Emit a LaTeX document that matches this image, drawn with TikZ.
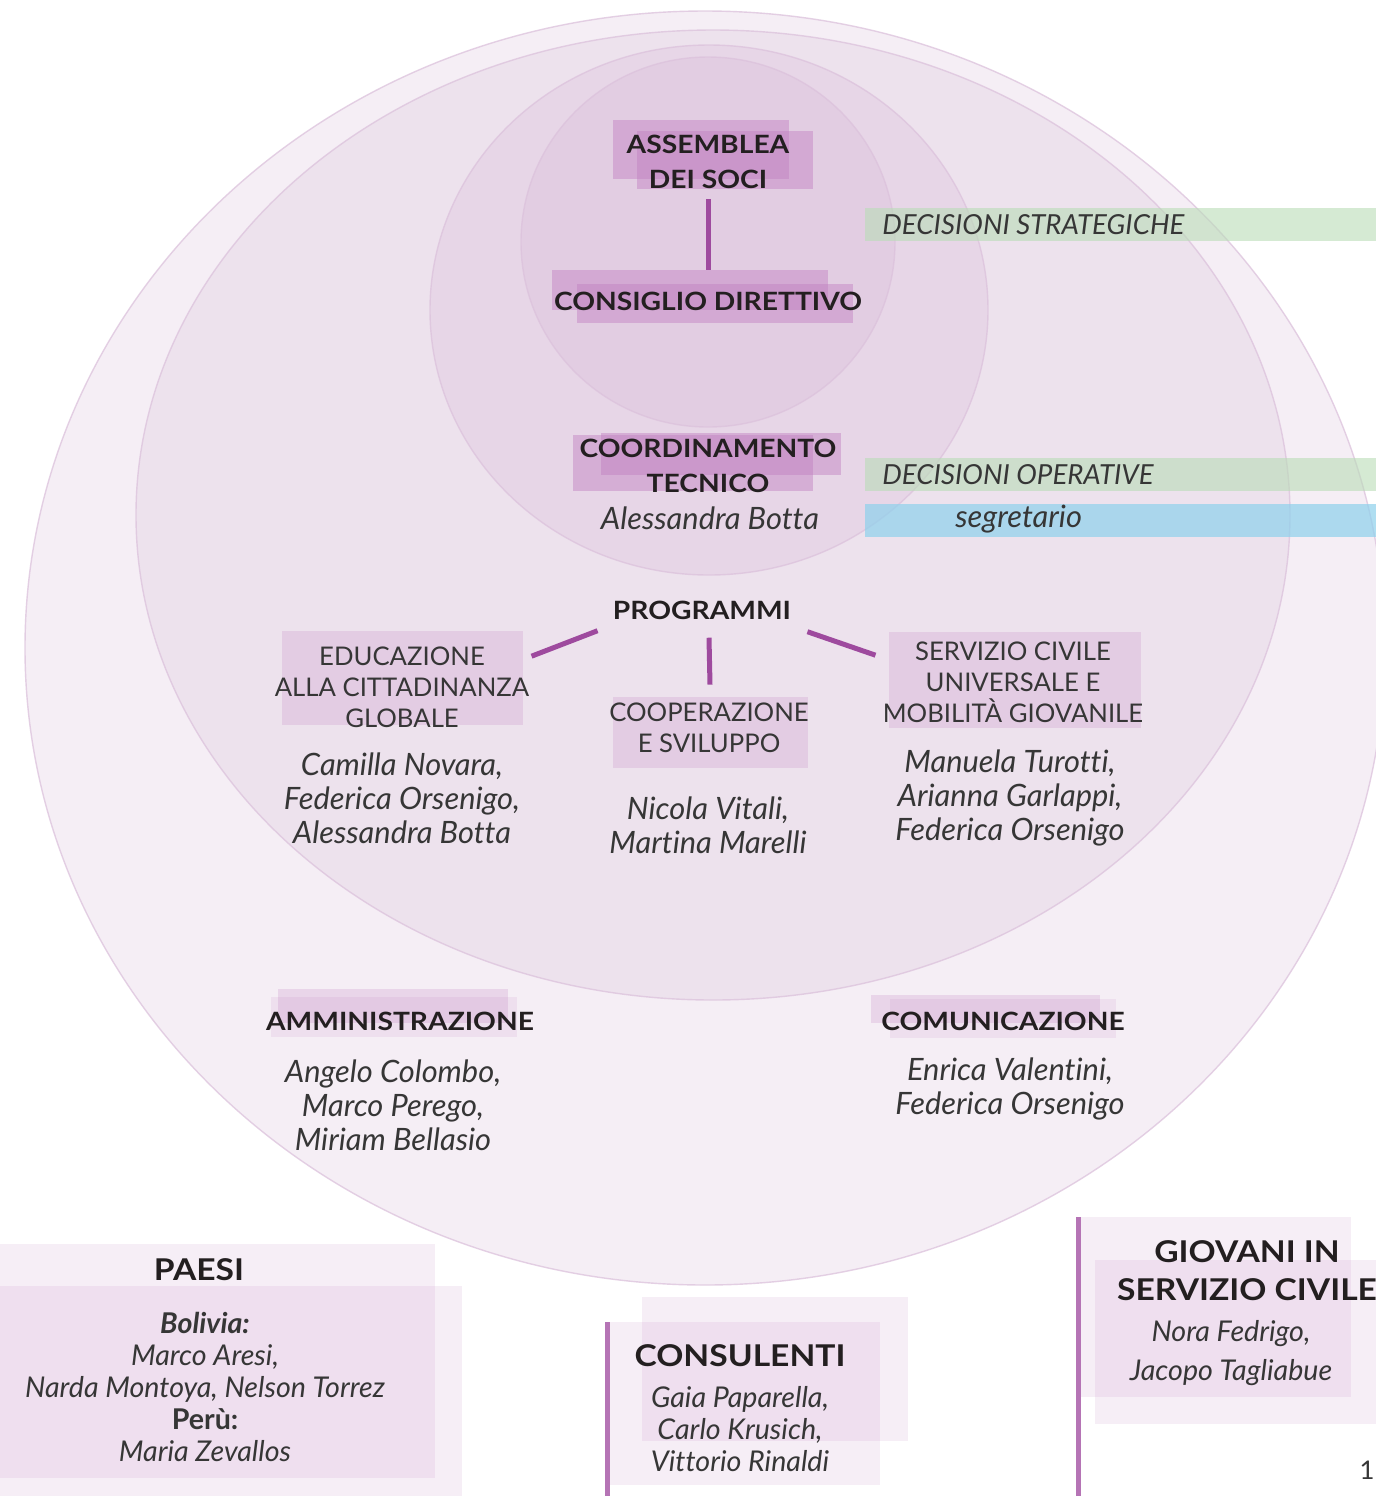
\documentclass[tikz,border=0pt]{standalone}
\usepackage{fontspec}
\setmainfont{Lato}[Ligatures=NoCommon]
\newfontfamily\headfont[FakeStretch=1.12]{Lato}
\usetikzlibrary{positioning}

\definecolor{ringA}{HTML}{F5EEF5}
\definecolor{ringB}{HTML}{EDE2ED}
\definecolor{ringC}{HTML}{E7D6E7}
\definecolor{ringD}{HTML}{E2CDE2}
\definecolor{ringline}{HTML}{DCC2DC}
\definecolor{hilite}{HTML}{C17FC1}
\definecolor{linkpurple}{HTML}{9E4A9E}
\definecolor{barpurple}{HTML}{B574B5}
\definecolor{decgreen}{HTML}{B9DCB7}
\definecolor{segblue}{HTML}{8ED1EC}
\definecolor{ink}{HTML}{231F20}
\definecolor{greyink}{HTML}{363636}

\tikzset{
  ring/.style={draw=ringline, draw opacity=0.75, line width=0.7pt}
}
\tikzset{
  hlbox/.style={fill=hilite, fill opacity=0.45}
}
\tikzset{
  hlsoft/.style={fill=hilite, fill opacity=0.22}
}
\tikzset{
  hlpale/.style={fill=hilite, fill opacity=0.13}
}
\tikzset{
  hdr/.style={font=\headfont\bfseries\fontsize{12.6}{17.5}\selectfont, text=ink, align=center, inner sep=0pt}
}
\tikzset{
  bighdr/.style={hdr, font=\headfont\bfseries\fontsize{15}{19}\selectfont}
}
\tikzset{
  prg/.style={font=\fontsize{12.85}{15.5}\selectfont, text=greyink, align=center, inner sep=0pt}
}
\tikzset{
  who/.style={font=\itshape\fontsize{15.4}{17}\selectfont, text=greyink, align=center, inner sep=0pt}
}
\tikzset{
  guest/.style={who, font=\itshape\fontsize{14.3}{16}\selectfont}
}
\tikzset{
  bartxt/.style={font=\itshape\fontsize{13.8}{15}\selectfont, text=greyink, inner sep=0pt, anchor=west}
}
\tikzset{
  link/.style={draw=linkpurple, line width=2.5pt}
}

\begin{document}
\begin{tikzpicture}[x=0.5pt, y=-0.5pt]
  \useasboundingbox[fill=white] (0,0) rectangle (1376,1496);

  % nested rings
  \draw[ring, fill=ringA] (705,648) ellipse [x radius=340pt, y radius=318.5pt];
  \draw[ring, fill=ringB] (713,515) ellipse [x radius=288.5pt, y radius=242.5pt];
  \draw[ring, fill=ringC] (709,310) ellipse [x radius=139.5pt, y radius=132.5pt];
  \draw[ring, fill=ringD] (708,242) ellipse [x radius=93.5pt, y radius=92.5pt];

  % highlight boxes
  \fill[hlbox] (613,120) rectangle (789,179);
  \fill[hlbox] (637,131) rectangle (813,189);
  \fill[hlbox] (552,270) rectangle (828,310);
  \fill[hlbox] (577,284) rectangle (853,323);
  \fill[hlbox] (573,435) rectangle (813,491);
  \fill[hlbox] (601,433) rectangle (841,475);
  \fill[hlsoft] (282,631) rectangle (523,725);
  \fill[hlsoft] (613,697) rectangle (808,768);
  \fill[hlsoft] (889,632) rectangle (1141,728);
  \fill[hlsoft] (278,989) rectangle (508,1023);
  \fill[hlpale] (271,997) rectangle (517,1037);
  \fill[hlsoft] (871,995) rectangle (1100,1023);
  \fill[hlpale] (890,999) rectangle (1116,1038);
  \fill[hlpale] (0,1244) rectangle (435,1478);
  \fill[hlpale] (0,1286) rectangle (462,1500);
  \fill[hlpale] (642,1297) rectangle (908,1441);
  \fill[hlpale] (610,1322) rectangle (880,1485);
  \fill[hlpale] (1081,1217) rectangle (1351,1397);
  \fill[hlpale] (1095,1260) rectangle (1380,1424);
  \fill[barpurple] (605,1322) rectangle (610,1500);
  \fill[barpurple] (1076,1217) rectangle (1081,1500);

  % side bands
  \fill[decgreen, fill opacity=0.6] (865,208) rectangle (1380,241);
  \fill[decgreen, fill opacity=0.6] (865,458) rectangle (1380,491);
  \fill[segblue, fill opacity=0.7] (865,504) rectangle (1380,537);
  \node[bartxt] (strat) at (882,225) {DECISIONI STRATEGICHE};
  \node[bartxt] (oper) at (882,475) {DECISIONI OPERATIVE};
  \node[bartxt, font=\itshape\fontsize{15.4}{17}\selectfont] (segr) at (955,519) {segretario};

  % governance
  \node[hdr] (asm) at (708,162) {ASSEMBLEA\\DEI SOCI};
  \node[hdr] (cons) at (708,301) {CONSIGLIO DIRETTIVO};
  \draw[link, shorten <=5pt, shorten >=10.5pt] (asm.south) -- (asm.south |- cons.north);
  \node[hdr] (coord) at (708,466) {COORDINAMENTO\\TECNICO};
  \node[who] (coordwho) at (710,518) {Alessandra Botta};

  % programmi
  \node[hdr] (prog) at (702,610) {PROGRAMMI};
  \node[prg] (edu) at (402,687) {EDUCAZIONE\\ALLA CITTADINANZA\\GLOBALE};
  \node[who] (eduwho) at (402,798) {Camilla Novara,\\Federica Orsenigo,\\Alessandra Botta};
  \node[prg] (coop) at (709,728) {COOPERAZIONE\\E SVILUPPO};
  \node[who] (coopwho) at (708,825) {Nicola Vitali,\\Martina Marelli};
  \node[prg] (serv) at (1013,682) {SERVIZIO CIVILE\\UNIVERSALE E\\MOBILITÀ GIOVANILE};
  \node[who] (servwho) at (1010,798) {Manuela Turotti,\\Arianna Garlappi,\\Federica Orsenigo};
  \draw[link] ([shift={(-15,11)}]prog.south west) -- ([shift={(2,10)}]edu.north east);
  \draw[link] ([shift={(7,18)}]prog.south) -- ([shift={(1,-18)}]coop.north);
  \draw[link] ([shift={(16,12)}]prog.south east) -- ([shift={(-7,14)}]serv.north west);

  % uffici
  \node[hdr] (amm) at (400,1021) {AMMINISTRAZIONE};
  \node[who] (ammwho) at (393,1105) {Angelo Colombo,\\Marco Perego,\\Miriam Bellasio};
  \node[hdr] (com) at (1003,1021) {COMUNICAZIONE};
  \node[who] (comwho) at (1010,1089) {Enrica Valentini,\\Federica Orsenigo};

  % esterni
  \node[bighdr] (paesi) at (199,1270) {PAESI};
  \node[guest] (paesiwho) at (205,1387)
    {\textbf{Bolivia:}\\Marco Aresi,\\Narda Montoya, Nelson Torrez\\\textbf{\upshape Perù:}\\Maria Zevallos};
  \node[bighdr] (cons2) at (740,1356) {CONSULENTI};
  \node[guest] (cons2who) at (740,1429) {Gaia Paparella,\\Carlo Krusich,\\Vittorio Rinaldi};
  \node[bighdr] (giov) at (1247,1271) {GIOVANI IN\\SERVIZIO CIVILE};
  \node[guest, font=\itshape\fontsize{14.3}{19.5}\selectfont] (giovwho) at (1231,1353) {Nora Fedrigo,\\Jacopo Tagliabue};
  \node[prg, anchor=east] (pag) at (1375,1470) {1};
\end{tikzpicture}
\end{document}
